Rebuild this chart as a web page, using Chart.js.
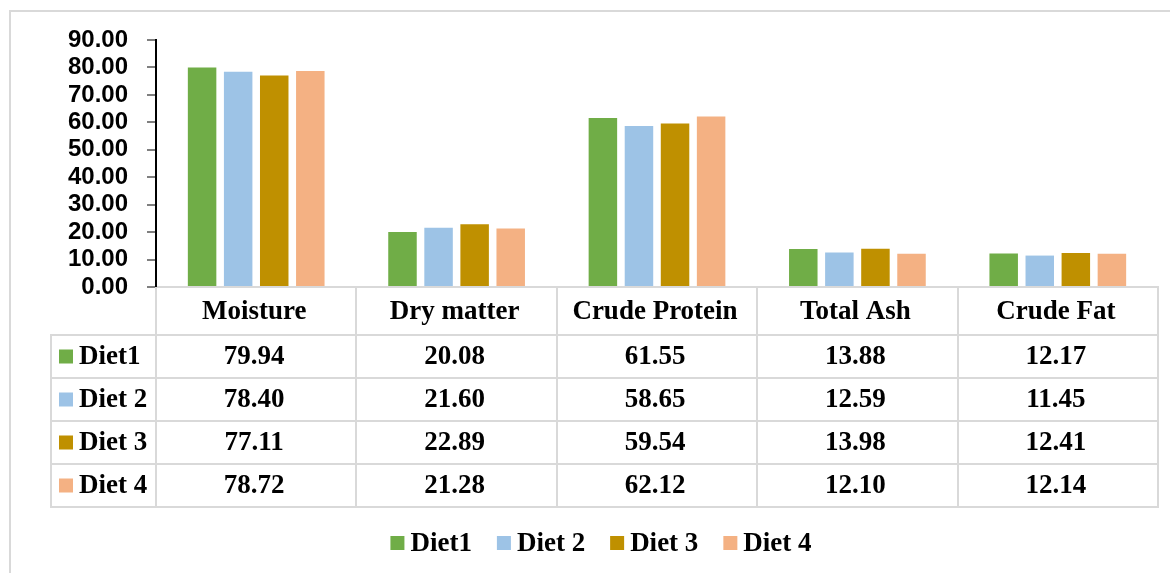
<!DOCTYPE html>
<html>
<head>
<meta charset="utf-8">
<script src="https://cdn.jsdelivr.net/npm/chart.js@4"></script>
<style>
  html, body { margin: 0; padding: 0; background: #fff; }
  #wrap { position: relative; width: 1170px; height: 573px; }
</style>
</head>
<body>
<div id="wrap"><canvas id="chart" width="1170" height="573"></canvas></div>
<script>
// chart data
const categories = ['Moisture', 'Dry matter', 'Crude Protein', 'Total Ash', 'Crude Fat'];
const seriesNames = ['Diet1', 'Diet 2', 'Diet 3', 'Diet 4'];
const diet1 = [79.94, 20.08, 61.55, 13.88, 12.17];
const diet2 = [78.40, 21.60, 58.65, 12.59, 11.45];
const diet3 = [77.11, 22.89, 59.54, 13.98, 12.41];
const diet4 = [78.72, 21.28, 62.12, 12.10, 12.14];
const yMin = 0, yMax = 90, yStep = 10;

const colors = ['#70ad47', '#9dc3e6', '#bf9000', '#f4b183'];
const seriesValues = [diet1, diet2, diet3, diet4];

const serif = 'bold 27px "Liberation Serif", "Times New Roman", serif';
const lineColor = '#d9d9d9';

// draws the data table under the axis, the outer frame and the legend
const tablePlugin = {
  id: 'dataTable',
  beforeDraw(chart) {
    const ctx = chart.ctx;
    ctx.save();
    ctx.strokeStyle = lineColor;
    ctx.lineWidth = 2;
    ctx.strokeRect(10, 11, 1200, 600);
    ctx.restore();
  },
  afterDraw(chart) {
    const ctx = chart.ctx;
    const x = chart.scales.x;
    const area = chart.chartArea;
    const n = categories.length;
    const step = (area.right - area.left) / n;
    const headerTop = area.bottom;
    const headerBottom = headerTop + 48;
    const rowH = 43;
    const tableLeft = 51;
    const rows = seriesNames.length;
    const tableBottom = headerBottom + rows * rowH;

    ctx.save();
    ctx.strokeStyle = lineColor;
    ctx.lineWidth = 2;
    ctx.beginPath();
    // vertical lines
    for (let i = 0; i <= n; i++) {
      const lx = Math.round(area.left + i * step);
      ctx.moveTo(lx, headerTop);
      ctx.lineTo(lx, tableBottom);
    }
    ctx.moveTo(tableLeft, headerBottom);
    ctx.lineTo(tableLeft, tableBottom);
    // horizontal lines
    for (let r = 0; r <= rows; r++) {
      const ly = Math.round(headerBottom + r * rowH);
      ctx.moveTo(tableLeft - 1, ly);
      ctx.lineTo(area.right + 1, ly);
    }
    ctx.stroke();

    ctx.fillStyle = '#000';
    ctx.font = serif;
    ctx.textAlign = 'center';
    ctx.textBaseline = 'middle';
    categories.forEach((c, i) => {
      ctx.fillText(c, x.getPixelForValue(i) - 2, (headerTop + headerBottom) / 2 + 1);
    });
    seriesValues.forEach((vals, r) => {
      const cy = headerBottom + r * rowH + rowH / 2 + 1;
      vals.forEach((v, i) => {
        ctx.fillText(v.toFixed(2), x.getPixelForValue(i) - 2, cy);
      });
    });
    ctx.textAlign = 'left';
    seriesNames.forEach((s, r) => {
      const cy = headerBottom + r * rowH + rowH / 2;
      ctx.fillStyle = colors[r];
      ctx.fillRect(59, cy - 7, 14, 14);
      ctx.fillStyle = '#000';
      ctx.fillText(s, 79, cy + 1);
    });

    // legend
    const widths = seriesNames.map(s => ctx.measureText(s).width);
    const itemW = widths.map(w => 14 + 6 + w);
    const gap = 25;
    const total = itemW.reduce((a, b) => a + b, 0) + gap * (rows - 1);
    let lx = 601 - total / 2;
    const ly = 543;
    seriesNames.forEach((s, r) => {
      ctx.fillStyle = colors[r];
      ctx.fillRect(lx, ly - 7, 14, 14);
      ctx.fillStyle = '#000';
      ctx.fillText(s, lx + 20, ly + 1);
      lx += itemW[r] + gap;
    });
    ctx.restore();
  }
};

new Chart(document.getElementById('chart'), {
  type: 'bar',
  data: {
    labels: categories,
    datasets: seriesNames.map((name, i) => ({
      label: name,
      data: seriesValues[i],
      backgroundColor: colors[i],
      categoryPercentage: 0.72,
      barPercentage: 0.79
    }))
  },
  options: {
    responsive: false,
    devicePixelRatio: 1,
    animation: false,
    layout: { padding: { left: 0, right: 12, top: 40, bottom: 67 } },
    plugins: {
      legend: { display: false },
      tooltip: { enabled: false }
    },
    scales: {
      x: {
        grid: { display: false },
        border: { display: true, color: lineColor, width: 2 },
        ticks: { display: false },
        afterFit(scale) { scale.height = 219; }
      },
      y: {
        min: yMin,
        max: yMax,
        afterFit(scale) { scale.width = 156; },
        grid: { drawOnChartArea: false, color: '#7f7f7f', lineWidth: 2, tickLength: 9 },
        border: { display: true, color: '#000', width: 2 },
        ticks: {
          stepSize: yStep,
          autoSkip: false,
          padding: 19,
          color: '#000',
          font: { family: '"Liberation Sans", Arial, sans-serif', size: 24, weight: 'bold' },
          callback: v => Number(v).toFixed(2)
        }
      }
    }
  },
  plugins: [tablePlugin]
});
</script>
</body>
</html>
